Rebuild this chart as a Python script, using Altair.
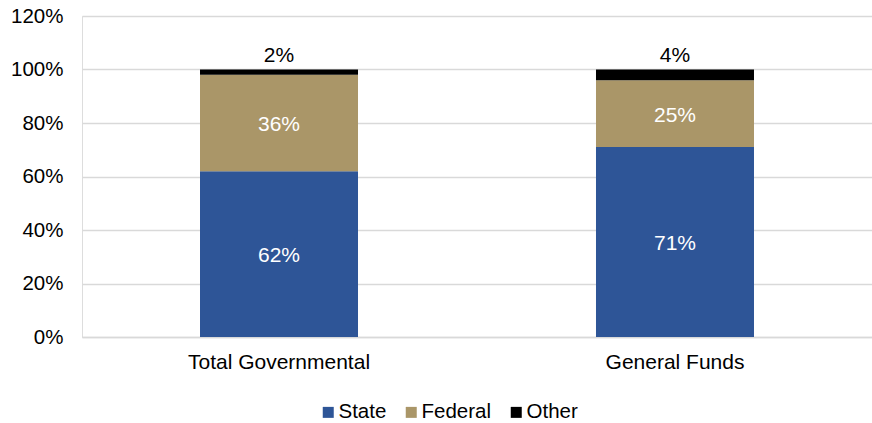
import altair as alt
import pandas as pd

categories = ["Total Governmental", "General Funds"]
series = ["State", "Federal", "Other"]
state = [62, 71]
federal = [36, 25]
other = [2, 4]
colors = ["#2E5597", "#AA9668", "#000000"]

rows = []
for i, c in enumerate(categories):
    for j, (s, vals) in enumerate(zip(series, [state, federal, other])):
        rows.append({"category": c, "series": s, "value": vals[i], "order": j,
                     "label": f"{vals[i]}%"})
df = pd.DataFrame(rows)

FONT = "Liberation Sans"

base = alt.Chart(df).transform_stack(
    stack="value", groupby=["category"], as_=["v0", "v1"],
    sort=[alt.SortField("order", order="ascending")]
).transform_calculate(mid="(datum.v0 + datum.v1) / 2")

xenc = alt.X("category:N", sort=categories, title=None,
             scale=alt.Scale(paddingInner=0.601, paddingOuter=0.298),
             axis=alt.Axis(labelAngle=0, labelFontSize=21, labelFont=FONT,
                           labelColor="#000000", ticks=False, tickSize=0,
                           domain=True, domainColor="#D9D9D9", domainWidth=1.3,
                           labelPadding=14, labelLimit=400))

yscale = alt.Scale(domain=[0, 120], nice=False)

bars = base.mark_bar().encode(
    x=xenc,
    y=alt.Y("v1:Q", scale=yscale, title=None,
            axis=alt.Axis(values=[0, 20, 40, 60, 80, 100, 120],
                          labelExpr="datum.value + '%'", labelFontSize=20.5,
                          labelFont=FONT, labelColor="#000000", ticks=False,
                          tickSize=0, domain=False, grid=True,
                          gridColor="#D9D9D9", gridWidth=1.3, labelPadding=19)),
    y2="v0:Q",
    color=alt.Color("series:N", sort=series,
                    scale=alt.Scale(domain=series, range=colors),
                    legend=alt.Legend(title=None, orient="none", direction="horizontal",
                                      legendX=236, legendY=386, symbolType="square",
                                      symbolSize=121, symbolStrokeWidth=0,
                                      labelFontSize=20.5, labelFont=FONT,
                                      labelColor="#000000", columnPadding=14,
                                      labelOffset=0, padding=0)),
    order=alt.Order("order:Q"),
)

inner = base.transform_filter("datum.series != 'Other'").mark_text(
    color="white", fontSize=21, font=FONT, baseline="middle", dy=2
).encode(
    x=alt.X("category:N", sort=categories),
    y=alt.Y("mid:Q", scale=yscale),
    text="label:N",
)

top = base.transform_filter("datum.series == 'Other'").mark_text(
    color="black", fontSize=21, font=FONT, baseline="alphabetic", dy=-8
).encode(
    x=alt.X("category:N", sort=categories),
    y=alt.Y("v1:Q", scale=yscale),
    text="label:N",
)

chart = alt.layer(bars, inner, top).properties(
    width=790, height=321,
    autosize=alt.AutoSizeParams(type="none"),
    padding={"left": 82, "top": 16, "right": 0, "bottom": 86},
).configure_view(stroke=None).configure(background="white")

chart.save("out.html", embed_options={"renderer": "svg", "actions": False})
